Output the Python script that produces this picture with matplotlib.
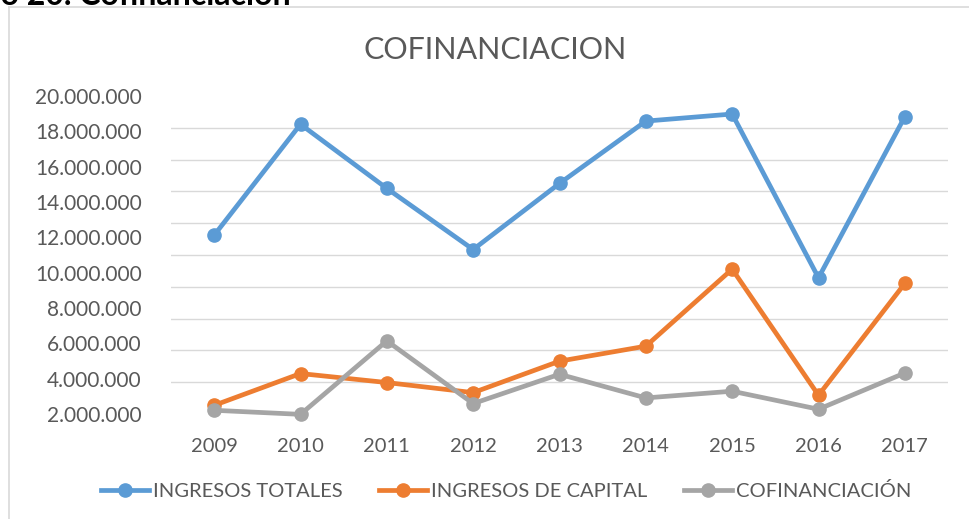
import matplotlib
matplotlib.use('Agg')
import matplotlib.pyplot as plt
import numpy as np
from matplotlib.ticker import FixedLocator, FuncFormatter
from matplotlib.lines import Line2D

plt.rcParams['font.family'] = ['Lato', 'DejaVu Sans']

# data (pesos)
years = ['2009', '2010', '2011', '2012', '2013', '2014', '2015', '2016', '2017']
ingresos_totales = [12120000, 18400000, 14770000, 11310000, 15050000,
                    18580000, 18980000, 9710000, 18830000]
ingresos_capital = [2490000, 4290000, 3780000, 3210000, 4990000,
                    5840000, 10200000, 3060000, 9390000]
cofinanciacion = [2210000, 1980000, 6140000, 2590000, 4250000,
                  2910000, 3290000, 2270000, 4320000]
series_names = ['INGRESOS TOTALES', 'INGRESOS DE CAPITAL', 'COFINANCIACIÓN']

colors = ['#5B9BD5', '#ED7D31', '#A5A5A5']
text_col = '#595959'

W, H = 969, 519
fig = plt.figure(figsize=(W / 100, H / 100), dpi=100)
# axes box in pixels: left 171, right 948, top 96, bottom 414
ax = fig.add_axes([171 / W, 1 - 414 / H, (948 - 171) / W, (414 - 96) / H])

x = np.arange(len(years))
for vals, c in zip([ingresos_totales, ingresos_capital, cofinanciacion], colors):
    ax.plot(x, vals, color=c, lw=3.4, marker='o', ms=9.5,
            solid_capstyle='round', clip_on=False, zorder=3)

ax.set_xlim(-0.5, len(years) - 0.5)
ax.set_ylim(2000000, 20000000)
ax.set_xticks(x)
ax.set_xticklabels(years)

# labels every 2.000.000, gridlines as drawn in the source (11 lines)
ax.yaxis.set_major_locator(FixedLocator(np.arange(2000000, 20000001, 2000000)))
ax.yaxis.set_minor_locator(FixedLocator(np.linspace(2000000, 20000000, 11)))
ax.yaxis.set_major_formatter(FuncFormatter(lambda v, p: f'{int(v):,}'.replace(',', '.')))
ax.grid(False)
ax.grid(True, which='minor', axis='y', color='#D9D9D9', lw=1.0)
ax.set_axisbelow(True)

ax.tick_params(axis='both', which='both', length=0, labelcolor=text_col)
ax.tick_params(axis='y', pad=21, labelsize=15)
ax.tick_params(axis='x', pad=17, labelsize=14.5)
for s in ax.spines.values():
    s.set_visible(False)

fig.text(495 / W, 1 - 50 / H, 'COFINANCIACION', ha='center', va='center',
         fontsize=22, color=text_col)

# caption above the chart, cut off by the top edge as in the source
fig.text(291 / W, 1 - 5 / H, 'Gráfico 20. Cofinanciación', ha='right',
         va='baseline', fontsize=23, fontweight='bold', color='black')

# chart border (only top and left are inside the picture)
fig.add_artist(Line2D([9 / W, 9 / W], [0, 1 - 7 / H], transform=fig.transFigure,
                      color='#D9D9D9', lw=1.2))
fig.add_artist(Line2D([9 / W, 1], [1 - 7 / H, 1 - 7 / H], transform=fig.transFigure,
                      color='#D9D9D9', lw=1.2))

handles = [Line2D([], [], color=c, lw=3.4, marker='o', ms=9.5) for c in colors]
fig.legend(handles, series_names, loc='center', bbox_to_anchor=(506 / W, 1 - 491 / H),
           ncol=3, frameon=False, fontsize=14.5, labelcolor=text_col,
           handlelength=2.4, handletextpad=0.2, columnspacing=1.8)

fig.savefig('out.png', dpi=100)
